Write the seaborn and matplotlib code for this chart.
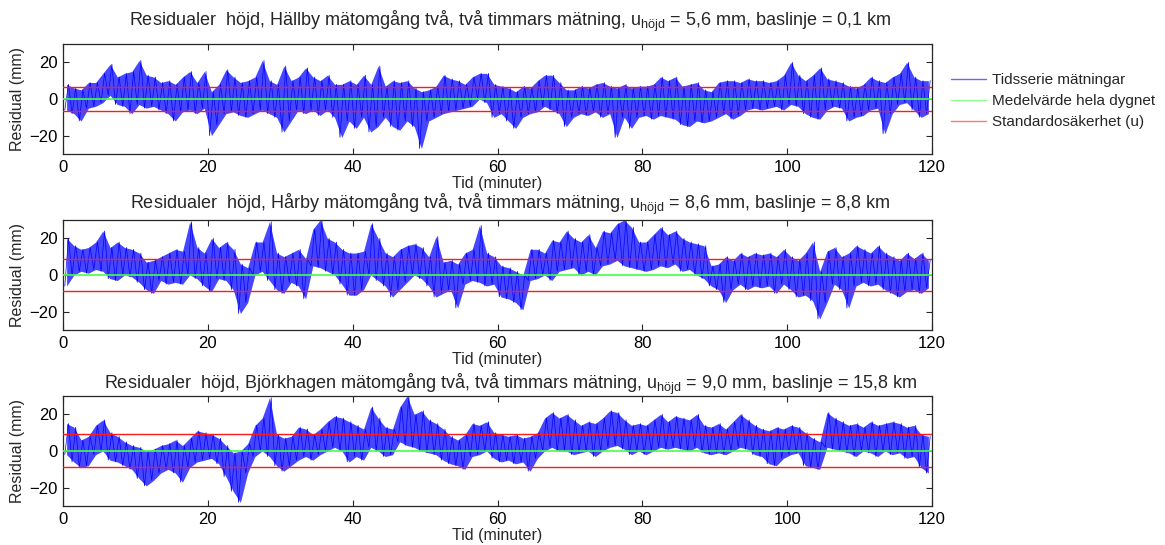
import numpy as np
import pandas as pd
import matplotlib
matplotlib.use("Agg")
import matplotlib.pyplot as plt
from matplotlib import font_manager
import seaborn as sns

# ---------------- data (per-minute low / high of the residual trace, mm) -------------
minutes = np.arange(120)

hallby_lo = [-6, -8, -12, -5, -4, -2, 2, -3, -4, -8, -3, -5, -4, -6, -8, -12, -7, -6, -8, -5,
             -20, -14, -8, -7, -9, -10, -8, -6, -8, -10, -18, -12, -6, -8, -6, -9, -6, -10, -21, -12,
             -16, -10, -18, -15, -10, -15, -17, -12, -15, -27, -12, -10, -8, -7, -6, -5, -4, 0, -2, -10,
             -8, -12, -16, -10, -8, -7, -4, -6, -8, -15, -10, -8, -9, -7, -10, -8, -21, -10, -16, -10,
             -9, -11, -9, -10, -11, -14, -15, -12, -13, -12, -10, -8, -11, -9, -6, -5, -6, -5, -4, -6,
             -3, -4, -8, -10, -11, -6, -4, -5, -12, -10, -9, -6, -5, -19, -8, -3, -2, -6, -10, -8]
hallby_hi = [8, 6, 5, 9, 9, 14, 19, 12, 14, 15, 21, 13, 12, 9, 10, 8, 12, 15, 9, 15,
             4, 8, 16, 12, 9, 10, 12, 21, 10, 8, 18, 10, 12, 17, 12, 10, 13, 8, 8, 10,
             8, 13, 8, 18, 7, 10, 9, 10, 6, 4, 5, 7, 13, 11, 10, 8, 12, 14, 14, 8,
             7, 6, 4, 7, 6, 10, 13, 13, 9, 5, 5, 7, 6, 8, 9, 7, 6, 8, 6, 7,
             7, 8, 12, 10, 12, 7, 8, 9, 5, 4, 9, 10, 10, 9, 11, 10, 10, 9, 10, 13,
             20, 13, 10, 13, 17, 11, 10, 9, 7, 6, 8, 12, 10, 9, 12, 14, 20, 12, 10, 10]

harby_lo = [-6, 0, 2, 1, 3, 2, -2, -3, 0, -1, -4, -8, -10, -3, -5, -4, -5, 0, -2, -6,
            -9, -2, -3, -8, -21, -15, 0, 2, -3, -8, -10, -4, -6, -13, 5, 4, 2, 0, -5, -11,
            -11, -8, 0, -3, -6, -12, -8, -4, 0, -2, -6, -12, -10, -8, -18, -5, -3, -4, -6, -5,
            -12, -13, -15, -19, -3, -2, 0, -3, 2, 3, 4, 0, 2, 0, 5, 6, 8, 5, 4, 3,
            2, 3, 5, 4, 6, 2, 3, 0, -2, -6, -8, -15, -8, -5, -8, -6, -7, -6, -10, -5,
            -8, -12, -11, -14, -24, -15, -5, -8, -18, -6, -4, -6, -5, -8, -10, -12, -9, -8, -10, -7]
harby_hi = [20, 16, 14, 15, 18, 24, 15, 18, 15, 14, 12, 7, 8, 10, 12, 14, 13, 29, 15, 12,
            20, 15, 18, 14, 6, 4, 18, 18, 29, 12, 10, 12, 14, 9, 25, 30, 20, 18, 14, 12,
            12, 13, 28, 20, 12, 10, 14, 16, 17, 15, 10, 21, 7, 8, 6, 12, 14, 27, 12, 10,
            5, 4, 2, 0, 14, 14, 12, 19, 18, 24, 20, 18, 22, 15, 24, 23, 28, 30, 26, 18,
            18, 22, 26, 22, 24, 20, 18, 17, 16, 5, 6, 10, 8, 12, 10, 12, 11, 12, 10, 14,
            10, 8, 12, 18, 2, 13, 15, 10, 12, 16, 14, 12, 16, 12, 10, 8, 12, 9, 12, 8]

bjork_lo = [-2, -6, -9, -8, -2, 0, -5, -6, -8, -10, -15, -19, -16, -12, -10, -12, -17, -9, -6, -5,
            -4, -7, -14, -22, -28, -12, -3, 0, -3, -8, -11, -8, -5, -3, -5, -2, 0, 2, 0, -6,
            -3, -5, 2, 0, -3, -2, 5, 3, 2, 0, -1, -2, -5, -7, -8, -10, -3, -2, 0, -4,
            -6, -5, -7, -6, -11, -4, 0, 2, 0, 0, -2, -1, 0, -3, 0, 2, 3, 1, -2, 0,
            -2, 0, 2, 1, 2, 1, 0, 2, -1, -2, -1, -2, 0, 2, 1, -2, -3, -7, -8, -4,
            -2, -1, -8, -9, -10, 2, 1, 0, -1, -3, 0, -1, -3, 0, -2, -1, -4, -3, -9, -12]
bjork_hi = [15, 13, 6, 8, 14, 17, 10, 8, 5, 3, 2, 0, 1, 3, 4, 6, 3, 7, 11, 10,
            9, 7, 3, -1, 0, 4, 14, 18, 29, 9, 7, 8, 13, 12, 9, 12, 16, 19, 18, 16,
            14, 12, 24, 18, 13, 12, 24, 30, 20, 22, 17, 15, 12, 8, 6, 9, 15, 14, 16, 10,
            9, 8, 9, 7, 8, 10, 18, 21, 18, 20, 17, 14, 16, 15, 18, 22, 21, 17, 14, 15,
            14, 17, 20, 16, 19, 18, 17, 20, 14, 13, 15, 12, 16, 20, 17, 14, 12, 11, 13, 12,
            14, 13, 10, 7, 5, 21, 18, 16, 14, 15, 13, 16, 14, 15, 16, 15, 13, 14, 9, 8]

series_lo = [hallby_lo, harby_lo, bjork_lo]
series_hi = [hallby_hi, harby_hi, bjork_hi]
mean_level = [-0.2, 0.0, 0.0]
u_upper = [6.5, 8.9, 9.1]
u_lower = [-6.4, -8.8, -8.6]

titles = [
    "Residualer  höjd, Hällby mätomgång två, två timmars mätning, u$_{\\mathrm{höjd}}$ = 5,6 mm, baslinje = 0,1 km",
    "Residualer  höjd, Hårby mätomgång två, två timmars mätning, u$_{\\mathrm{höjd}}$ = 8,6 mm, baslinje = 8,8 km",
    "Residualer  höjd, Björkhagen mätomgång två, två timmars mätning, u$_{\\mathrm{höjd}}$ = 9,0 mm, baslinje = 15,8 km",
]
legend_labels = ["Tidsserie mätningar", "Medelvärde hela dygnet", "Standardosäkerhet (u)"]
x_ticks = [0, 20, 40, 60, 80, 100, 120]
y_ticks = [-20, 0, 20]

# ---------------- style -------------
sns.set_style("ticks")
names = {f.name for f in font_manager.fontManager.ttflist}
fam = [n for n in ["Liberation Sans Narrow", "Liberation Sans", "DejaVu Sans"] if n in names]
plt.rcParams["font.family"] = fam
plt.rcParams["mathtext.fontset"] = "custom"
plt.rcParams["mathtext.rm"] = fam[0]
plt.rcParams["mathtext.it"] = fam[0]
plt.rcParams["axes.edgecolor"] = "#262626"
plt.rcParams["axes.linewidth"] = 0.9

fig = plt.figure(figsize=(11.65, 5.45), dpi=100)
W, H = 1165, 545
ax_tops = [44, 220, 396]
ax_h = 110
left, right = 63, 932
title_pads = [13, 8, 5]

handles = None
for i in range(3):
    ax = fig.add_axes([left / W, 1 - (ax_tops[i] + ax_h) / H, (right - left) / W, ax_h / H])
    # dense band: low/high of each minute
    band = pd.DataFrame({"t": np.concatenate([minutes + 0.5, minutes + 0.5]),
                         "v": np.concatenate([series_lo[i], series_hi[i]])})
    sns.lineplot(data=band, x="t", y="v", ax=ax, estimator="mean", errorbar=("pi", 100),
                 color="#0000ff", lw=0, err_kws={"alpha": 0.72, "lw": 0}, legend=False)
    # trace texture
    t = np.column_stack([minutes + 0.25, minutes + 0.75]).ravel()
    v = np.column_stack([series_lo[i], series_hi[i]]).ravel()
    df = pd.DataFrame({"t": t, "v": v})
    sns.lineplot(data=df, x="t", y="v", ax=ax, color="#0000ff", lw=0.5,
                 estimator=None, sort=False, legend=False)
    ax.axhline(mean_level[i], color="#44ff44", lw=1.2, zorder=4)
    ax.axhline(u_upper[i], color="#ff1a1a", lw=1.0, zorder=4)
    ax.axhline(u_lower[i], color="#ff1a1a", lw=1.0, zorder=4)
    ax.set_xlim(0, 120)
    ax.set_ylim(-30, 30)
    ax.set_xticks(x_ticks)
    ax.set_yticks(y_ticks)
    ax.tick_params(direction="in", top=True, right=True, length=4, width=0.8,
                   labelsize=12, colors="#262626", labelcolor="black", pad=4)
    for s in ax.spines.values():
        s.set_visible(True)
    ax.set_xlabel("Tid (minuter)", fontsize=11.5, labelpad=1)
    ax.set_ylabel("Residual (mm)", fontsize=11.5, labelpad=3)
    ax.set_title(titles[i], fontsize=13, pad=title_pads[i], x=0.515)
    if i == 0:
        lines = ax.get_lines()
        handles = [lines[1], lines[2], lines[3]]

leg = fig.legend(handles, legend_labels, loc="upper left",
                 bbox_to_anchor=(945 / W, 1 - 67 / H), frameon=False,
                 fontsize=11, handlelength=2.3, handletextpad=0.35, labelspacing=0.45,
                 borderaxespad=0)
for l in leg.get_lines():
    l.set_alpha(0.6)
    l.set_linewidth(1.0)

fig.savefig("out.png", dpi=100)
